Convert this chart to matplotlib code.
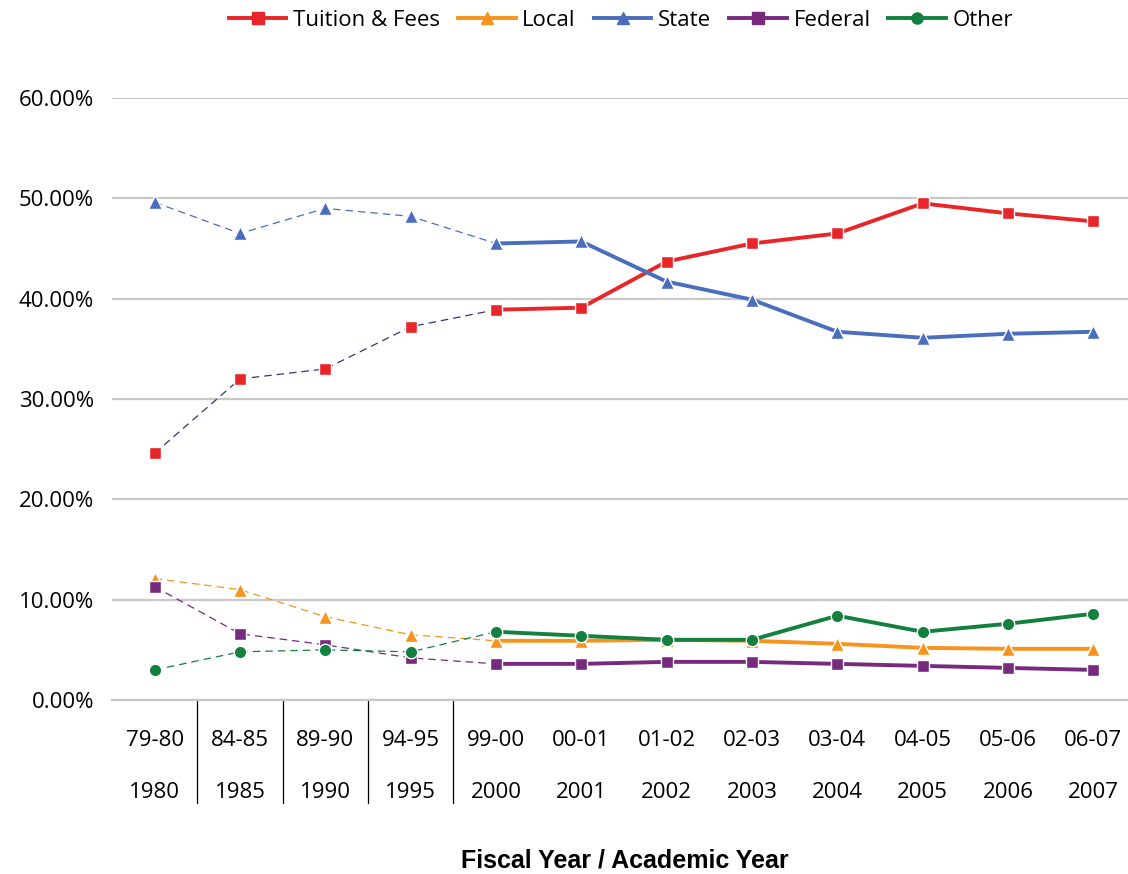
import matplotlib.pyplot as plt
from matplotlib.lines import Line2D

fiscal = ["79-80", "84-85", "89-90", "94-95", "99-00", "00-01",
          "01-02", "02-03", "03-04", "04-05", "05-06", "06-07"]
years = ["1980", "1985", "1990", "1995", "2000", "2001",
         "2002", "2003", "2004", "2005", "2006", "2007"]

tuition = [24.6, 32.0, 33.0, 37.2, 38.9, 39.1, 43.7, 45.5, 46.5, 49.5, 48.5, 47.7]
local = [12.1, 11.0, 8.3, 6.5, 5.9, 5.9, 6.0, 5.9, 5.6, 5.2, 5.1, 5.1]
state = [49.6, 46.5, 49.0, 48.2, 45.5, 45.7, 41.7, 39.9, 36.7, 36.1, 36.5, 36.7]
federal = [11.3, 6.6, 5.5, 4.2, 3.6, 3.6, 3.8, 3.8, 3.6, 3.4, 3.2, 3.0]
other = [3.0, 4.8, 5.0, 4.8, 6.8, 6.4, 6.0, 6.0, 8.4, 6.8, 7.6, 8.6]

# name, values, colour, dashed-part colour, marker, marker size
series = [
    ("Tuition & Fees", tuition, "#E8262A", "#2E3580", "s", 9),
    ("Local", local, "#F7941D", "#F7941D", "^", 10),
    ("State", state, "#4A6EBD", "#4A6EBD", "^", 10),
    ("Federal", federal, "#772A7E", "#772A7E", "s", 9),
    ("Other", other, "#13803F", "#13803F", "o", 9),
]

FONT = "Open Sans"
FS = 16

fig = plt.figure(figsize=(11.28, 8.74), dpi=100)
ax = fig.add_axes([112 / 1128, 174 / 874, (1128 - 112) / 1128, (776 - 174) / 874])

x = list(range(len(fiscal)))
split = 4  # dashed up to 99-00, solid after
handles = []
for name, vals, col, dcol, mk, ms in series:
    ax.plot(x[:split + 1], vals[:split + 1], color=dcol, lw=0.9, ls=(0, (6, 4)),
            zorder=2)
    ax.plot(x[split:], vals[split:], color=col, lw=2.8, zorder=3)
    ax.plot(x, vals, ls="none", marker=mk, ms=ms, color=col,
            markeredgecolor="white", markeredgewidth=1.0, zorder=4)
    handles.append(Line2D([], [], color=col, lw=2.8, marker=mk, ms=8,
                          markeredgecolor=col))

ax.set_ylim(0, 60)
ax.set_xlim(-0.5, 11.5 - 8 / 85.3)
ax.set_yticks(range(0, 61, 10))
ax.set_yticklabels([f"{v:.2f}%" for v in range(0, 61, 10)],
                   fontsize=FS, family=FONT)
ax.yaxis.grid(True, color="#c8c8c8", lw=1.6)
ax.set_axisbelow(True)
for s in ["top", "right", "left"]:
    ax.spines[s].set_visible(False)
ax.spines["bottom"].set_color("#c8c8c8")
ax.spines["bottom"].set_linewidth(1.6)
ax.tick_params(axis="y", length=0, pad=13)
ax.set_xticks([])

tr = ax.get_xaxis_transform()
for i in x:
    ax.text(i, -40 / 602, fiscal[i], transform=tr, ha="center", va="center",
            fontsize=FS, family=FONT)
    ax.text(i, -92 / 602, years[i], transform=tr, ha="center", va="center",
            fontsize=FS, family=FONT)
for i in range(4):
    ax.plot([i + 0.5, i + 0.5], [0, -103 / 602], transform=tr, color="black",
            lw=0.9, clip_on=False)

fig.text(625 / 1128, 1 - 860 / 874, "Fiscal Year / Academic Year",
         ha="center", va="center", fontsize=18, fontweight="bold",
         family="Liberation Sans")

fig.legend(handles, [s[0] for s in series], loc="center",
           bbox_to_anchor=(621 / 1128, 1 - 20 / 874), ncol=5, frameon=False,
           prop={"family": FONT, "size": FS},
           handlelength=2.6, handletextpad=0.3, columnspacing=0.8)

fig.savefig("out.png", dpi=100)
